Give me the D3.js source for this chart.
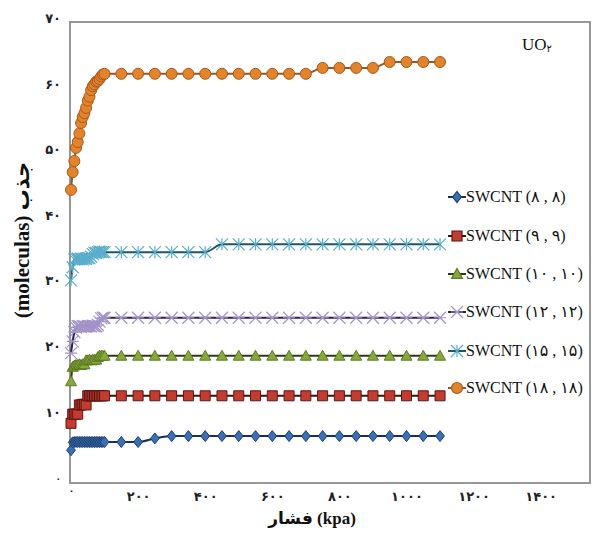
<!DOCTYPE html>
<html lang="fa">
<head>
<meta charset="UTF-8" />
<title>UO2 adsorption on SWCNT</title>
<script src="https://cdn.jsdelivr.net/npm/d3@7"></script>
<style>
  body { margin: 0; background: #fff; }
  svg { display: block; }
  .tick text { font-family: "Liberation Serif", "DejaVu Sans", serif; font-weight: bold; fill: #222; }
</style>
</head>
<body>
<svg id="chart" width="598" height="539"></svg>
<script>
// pressure (kPa) — dense part and wide part of every run
const pressureDense = [0, 5, 10, 15, 20, 25, 30, 35, 40, 45, 50, 55, 60, 65, 70, 75, 80, 85, 90, 95, 100];
const pressureWide = [150, 200, 250, 300, 350, 400, 450, 500, 550, 600, 650, 700, 750, 800, 850, 900, 950, 1000, 1050, 1100];

// adsorbed molecules per series
const swcnt8 = [4.7, 5.9, 5.95, 5.95, 5.95, 5.95, 5.95, 5.95, 5.95, 5.95, 5.95, 5.95, 5.95, 5.95, 5.95, 5.95, 5.95, 5.95, 5.95, 5.95, 5.95,
  5.95, 5.95, 6.5, 6.85, 6.85, 6.85, 6.85, 6.85, 6.85, 6.85, 6.85, 6.85, 6.85, 6.85, 6.85, 6.85, 6.85, 6.85, 6.85, 6.85];
const swcnt9 = [8.8, 10.2, 10.2, 10.2, 10.2, 11.6, 11.6, 11.7, 11.7, 11.6, 13.0, 13.0, 13.0, 13.0, 13.0, 13.0, 13.0, 13.0, 13.0, 13.0, 13.0,
  13.0, 13.0, 13.0, 13.0, 13.0, 13.0, 13.0, 13.0, 13.0, 13.0, 13.0, 13.0, 13.0, 13.0, 13.0, 13.0, 13.0, 13.0, 13.0, 13.0];
const swcnt10 = [15.2, 17.4, 17.6, 17.7, 17.7, 17.8, 17.7, 17.8, 17.8, 18.4, 18.4, 18.5, 18.4, 18.5, 18.5, 18.5, 18.9, 19.1, 19.1, 19.1, 19.1,
  19.1, 19.1, 19.1, 19.1, 19.1, 19.1, 19.1, 19.1, 19.1, 19.1, 19.1, 19.1, 19.1, 19.1, 19.1, 19.1, 19.1, 19.1, 19.1, 19.1];
const swcnt12 = [19.5, 21.3, 22.7, 23.4, 23.6, 23.6, 23.5, 23.6, 23.6, 23.5, 23.6, 23.6, 23.6, 23.7, 23.6, 23.6, 23.8, 24.3, 24.8, 24.9, 24.9,
  24.9, 24.9, 24.9, 24.9, 24.9, 24.9, 24.9, 24.9, 24.9, 24.9, 24.9, 24.9, 24.9, 24.9, 24.9, 24.9, 24.9, 24.9, 24.9, 24.9];
const swcnt15 = [30.6, 32.6, 33.8, 33.9, 33.9, 33.8, 33.9, 33.8, 33.9, 33.9, 34.0, 34.0, 34.2, 34.6, 34.8, 34.8, 34.9, 35.0, 34.9, 34.9, 34.9,
  34.9, 34.9, 34.9, 34.9, 34.9, 34.9, 36.1, 36.1, 36.1, 36.1, 36.1, 36.1, 36.1, 36.1, 36.1, 36.1, 36.1, 36.1, 36.1, 36.1];
const swcnt18 = [44.4, 47.1, 48.8, 50.8, 51.7, 53.0, 54.6, 55.5, 56.1, 56.9, 58.0, 58.6, 59.6, 60.2, 60.5, 60.9, 61.0, 61.3, 61.7, 62.0, 62.1,
  62.1, 62.1, 62.1, 62.1, 62.1, 62.1, 62.1, 62.1, 62.1, 62.1, 62.1, 62.1, 63.0, 63.0, 63.0, 63.0, 63.9, 63.9, 63.9, 63.9];

const seriesNames = ["SWCNT (۸ , ۸)", "SWCNT (۹ , ۹)", "SWCNT (۱۰ , ۱۰)", "SWCNT (۱۲ , ۱۲)", "SWCNT (۱۵ , ۱۵)", "SWCNT (۱۸ , ۱۸)"];
const xTicks = [0, 200, 400, 600, 800, 1000, 1200, 1400];
const yTicks = [0, 10, 20, 30, 40, 50, 60, 70];

const fa = n => String(n).replace(/\d/g, d => "۰۱۲۳۴۵۶۷۸۹"[d]);
const pressure = pressureDense.concat(pressureWide);

const styles = [
  {marker: "diamond", fill: "#3a70b5", stroke: "#1d3e6e", line: "#1c2f4f", size: 11},
  {marker: "square", fill: "#c43b2f", stroke: "#5c1712", line: "#2a1a18", size: 10},
  {marker: "triangle", fill: "#86aa3a", stroke: "#5d7a25", line: "#2e3a18", size: 11},
  {marker: "x", fill: "none", stroke: "#a393c9", line: "#2a2150", size: 12},
  {marker: "star", fill: "none", stroke: "#5aaecb", line: "#1f5666", size: 12},
  {marker: "circle", fill: "#e2842c", stroke: "#a9581b", line: "#8a5a32", size: 11}
];
const values = [swcnt8, swcnt9, swcnt10, swcnt12, swcnt15, swcnt18];

const svg = d3.select("#chart");
const plotL = 70, plotR = 590, plotT = 22, plotB = 483;

const x = d3.scaleLinear().domain([0, 1547]).range([71, plotR]);
const y = d3.scaleLinear().domain([-0.3, 70]).range([plotB, plotT]);

// plot frame
svg.append("rect")
  .attr("x", plotL).attr("y", plotT)
  .attr("width", plotR - plotL).attr("height", plotB - plotT)
  .attr("fill", "none").attr("stroke", "#8c8c8c").attr("stroke-width", 1.8);

// axes (labels only)
svg.append("g")
  .attr("transform", `translate(0,${plotB})`)
  .call(d3.axisBottom(x).tickValues(xTicks).tickSize(0).tickFormat(fa))
  .call(g => g.select(".domain").remove())
  .call(g => g.selectAll("text").attr("font-size", 13).attr("dy", 15)
    .filter(d => d === 0).attr("font-size", 9).attr("dy", 8));

svg.append("g")
  .attr("transform", `translate(${plotL - 6},0)`)
  .call(d3.axisLeft(y).tickValues(yTicks).tickSize(0).tickFormat(fa))
  .call(g => g.select(".domain").remove())
  .call(g => g.selectAll("text").attr("font-size", 13).attr("dy", "0.05em")
    .filter(d => d === 0).attr("font-size", 9));

function markerPath(type, s) {
  const h = s / 2;
  if (type === "x") return `M${-h},${-h}L${h},${h}M${-h},${h}L${h},${-h}M${-h},0L${h},0`;
  if (type === "star") return `M${-h},${-h}L${h},${h}M${-h},${h}L${h},${-h}M0,${-h}L0,${h}`;
  if (type === "diamond") return `M0,${-h}L${h * 0.8},0L0,${h}L${-h * 0.8},0Z`;
  if (type === "square") return `M${-h},${-h}H${h}V${h}H${-h}Z`;
  if (type === "triangle") return `M0,${-h}L${h},${h * 0.8}L${-h},${h * 0.8}Z`;
  return d3.symbol(d3.symbolCircle, Math.PI * h * h)();
}

const line = d3.line()
  .x((d, i) => x(pressure[i]))
  .y(d => y(d))
  .curve(d3.curveMonotoneX);

values.forEach((vals, k) => {
  const st = styles[k];
  const g = svg.append("g");
  g.append("path")
    .datum(vals)
    .attr("d", line)
    .attr("fill", "none")
    .attr("stroke", st.line)
    .attr("stroke-width", 2);
  g.selectAll("path.m")
    .data(vals)
    .join("path")
    .attr("class", "m")
    .attr("transform", (d, i) => `translate(${x(pressure[i])},${y(d)})`)
    .attr("d", markerPath(st.marker, st.size))
    .attr("fill", st.fill)
    .attr("stroke", st.stroke)
    .attr("stroke-width", st.fill === "none" ? 1.2 : 1);
});

// legend
const legendY = [197, 236, 274, 312, 351, 388];
const lg = svg.append("g");
seriesNames.forEach((name, k) => {
  const st = styles[k];
  const row = lg.append("g").attr("transform", `translate(0,${legendY[k]})`);
  row.append("line").attr("x1", 448).attr("x2", 466).attr("y1", 0).attr("y2", 0)
    .attr("stroke", st.line).attr("stroke-width", 2);
  row.append("path").attr("transform", "translate(457,0)")
    .attr("d", markerPath(st.marker, st.size))
    .attr("fill", st.fill).attr("stroke", st.stroke).attr("stroke-width", 1.2);
  row.append("text").attr("x", 466).attr("y", 5)
    .attr("font-family", "Liberation Serif, DejaVu Sans, serif")
    .attr("font-size", 16).attr("fill", "#111")
    .text(name);
});

// UO2 label
const uo = svg.append("text").attr("x", 522).attr("y", 50)
  .attr("font-family", "Liberation Serif, serif").attr("font-size", 17).attr("fill", "#111");
uo.append("tspan").text("UO");
uo.append("tspan").attr("font-size", 10).attr("dy", 2).attr("font-family", "DejaVu Sans").text("۲");

// axis titles
svg.append("text")
  .attr("x", 312).attr("y", 524)
  .attr("text-anchor", "middle")
  .attr("font-family", "Liberation Serif, DejaVu Sans, serif")
  .attr("font-weight", "bold").attr("font-size", 17).attr("fill", "#111")
  .attr("direction", "ltr")
  .text("فشار (kpa)");

svg.append("text")
  .attr("transform", "translate(29,240) rotate(-90)")
  .attr("text-anchor", "middle")
  .attr("font-family", "Liberation Serif, DejaVu Sans, serif")
  .attr("font-weight", "bold").attr("font-size", 21).attr("fill", "#111")
  .attr("direction", "ltr")
  .text("(moleculas) جذب");
</script>
</body>
</html>
